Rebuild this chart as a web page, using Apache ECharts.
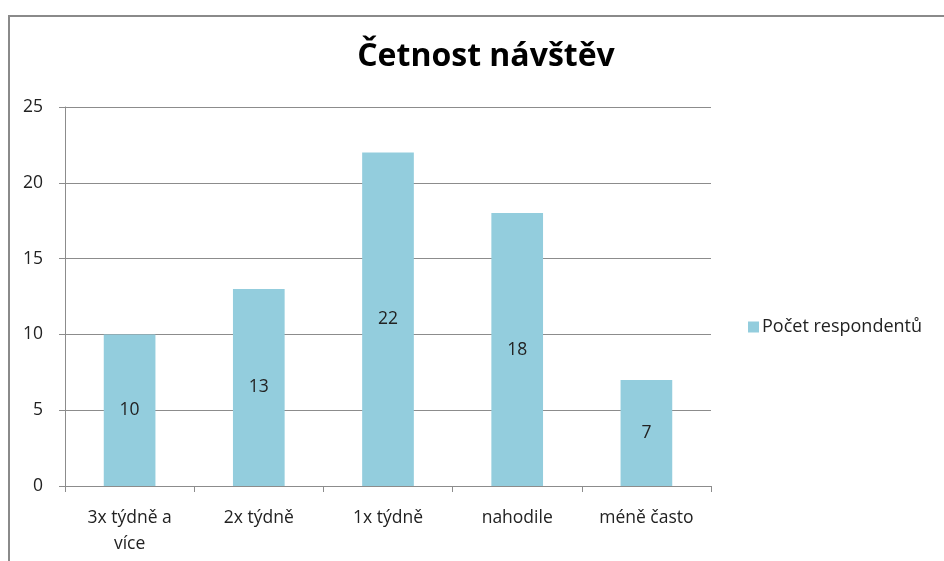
<!DOCTYPE html>
<html>
<head>
<meta charset="utf-8">
<style>
    html, body { margin: 0; padding: 0; background: #fff; }
    #echarts { width: 944px; height: 561px; }
</style>
</head>
<body>
<div id="echarts"></div>
<script src="https://cdn.jsdelivr.net/npm/echarts@6/dist/echarts.min.js"></script>
<script>
    // data
    const categories = ['3x týdně a\nvíce', '2x týdně', '1x týdně', 'nahodile', 'méně často'];
    const counts = [10, 13, 22, 18, 7];
    const seriesName = 'Počet respondentů';

    let myChart = echarts.init(document.getElementById('echarts'));
    const font = '"Open Sans", "Noto Sans", sans-serif';

    myChart.setOption({
        backgroundColor: '#fff',
        textStyle: { fontFamily: font },
        title: {
            text: 'Četnost návštěv',
            left: 481,
            textAlign: 'center',
            top: 36,
            textStyle: { fontSize: 32, fontWeight: 'bold', color: '#000', fontFamily: font }
        },
        graphic: [{
            type: 'rect',
            shape: { x: 9, y: 16, width: 1200, height: 1000 },
            style: { fill: 'none', stroke: '#8a8a8a', lineWidth: 2 },
            silent: true
        }],
        legend: {
            left: 743,
            top: 313,
            itemWidth: 11,
            itemHeight: 11,
            itemGap: 4,
            icon: 'rect',
            textStyle: { fontSize: 18, color: '#222', fontFamily: font, padding: [0, 0, 0, -2] },
            data: [seriesName]
        },
        grid: { left: 65, right: 233, top: 107, bottom: 75 },
        xAxis: {
            type: 'category',
            data: categories,
            axisLine: { lineStyle: { color: '#8c8c8c', width: 1 } },
            axisTick: { show: true, length: 6, lineStyle: { color: '#8c8c8c' } },
            axisLabel: { fontSize: 17.5, color: '#222', margin: 19, lineHeight: 26 }
        },
        yAxis: {
            type: 'value',
            min: 0,
            max: 25,
            interval: 5,
            axisLine: { show: true, lineStyle: { color: '#8c8c8c', width: 1 } },
            axisTick: { show: true, length: 6, lineStyle: { color: '#8c8c8c' } },
            axisLabel: { fontSize: 17.5, color: '#222', margin: 22 },
            splitLine: { lineStyle: { color: '#8c8c8c', width: 1 } }
        },
        series: [{
            name: seriesName,
            type: 'bar',
            data: counts,
            barWidth: '40%',
            itemStyle: { color: '#93cddd' },
            label: { show: true, position: 'inside', fontSize: 17.5, color: '#222' }
        }]
    });
</script>
</body>
</html>
